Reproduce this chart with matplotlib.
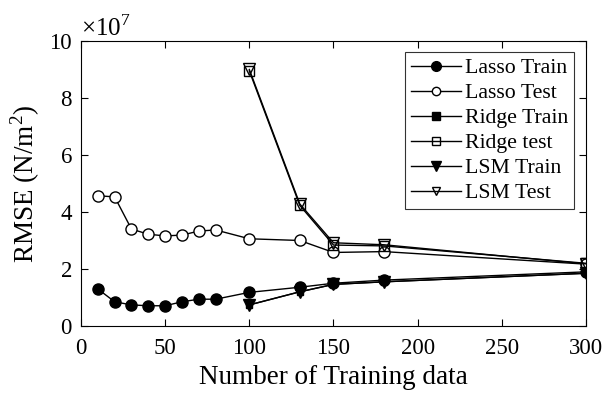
import matplotlib
matplotlib.use('Agg')
import matplotlib.pyplot as plt
from matplotlib.ticker import FuncFormatter

plt.rcParams['font.family'] = ['Liberation Serif', 'DejaVu Serif']
plt.rcParams['mathtext.fontset'] = 'custom'
plt.rcParams['mathtext.rm'] = 'Liberation Serif'

# RMSE values in units of 1e7 N/m^2
n_lasso = [10, 20, 30, 40, 50, 60, 70, 80, 100, 130, 150, 180, 300]
lasso_train = [1.30, 0.85, 0.74, 0.71, 0.71, 0.85, 0.94, 0.94, 1.18, 1.36, 1.50, 1.61, 1.90]
lasso_test = [4.57, 4.53, 3.40, 3.22, 3.16, 3.19, 3.33, 3.37, 3.06, 3.00, 2.58, 2.61, 2.17]

n_ridge = [100, 130, 150, 180, 300]
ridge_train = [0.74, 1.20, 1.46, 1.55, 1.85]
ridge_test = [8.95, 4.23, 2.84, 2.81, 2.20]
lsm_train = [0.74, 1.20, 1.46, 1.55, 1.85]
lsm_test = [9.00, 4.28, 2.92, 2.85, 2.18]

fig = plt.figure(figsize=(6.07, 3.94), dpi=100)
ax = fig.add_axes([0.1334, 0.1726, 0.832, 0.7234])

kw = dict(color='black', lw=1.0, mec='black')
ax.plot(n_lasso, lasso_train, marker='o', ms=8, mfc='black', label='Lasso Train', **kw)
ax.plot(n_lasso, lasso_test, marker='o', ms=8, mfc='white', label='Lasso Test', **kw)
ax.plot(n_ridge, ridge_train, marker='s', ms=4, mfc='black', label='Ridge Train', **kw)
ax.plot(n_ridge, ridge_test, marker='s', ms=7, mfc='none', label='Ridge test', **kw)
ax.plot(n_ridge, lsm_train, marker='v', ms=9, mfc='black', label='LSM Train', **kw)
ax.plot(n_ridge, lsm_test, marker='v', ms=8.5, mfc='none', label='LSM Test', **kw)

ax.set_xlim(0, 300)
ax.set_ylim(0, 10)
ax.set_xticks(range(0, 301, 50))
ax.set_yticks(range(0, 11, 2))
ax.yaxis.set_major_formatter(FuncFormatter(lambda v, p: '%d' % v))
ax.tick_params(direction='in', top=True, right=True, labelsize=16.5, length=5, width=0.8)
ax.tick_params(axis='x', pad=9)
ax.tick_params(axis='y', pad=6.5)
for s in ax.spines.values():
    s.set_linewidth(0.8)

ax.set_xlabel('Number of Training data', fontsize=19.5, labelpad=4)
ax.set_ylabel('RMSE (N/m$^2$)', fontsize=19.5, labelpad=5)
ax.text(0.0, 1.0, r'$\times10^7$', transform=ax.transAxes, fontsize=18,
        ha='left', va='bottom')

leg = ax.legend(loc='upper right', bbox_to_anchor=(0.985, 0.975), fontsize=15.7,
                frameon=True, fancybox=False, edgecolor='black', handlelength=2.3,
                labelspacing=0.22, borderpad=0.25, handletextpad=0.2, borderaxespad=0.2)
leg.get_frame().set_linewidth(0.8)
for h, size in zip(leg.get_lines(), [7, 6, 5.5, 6, 7, 6]):
    h.set_markersize(size)

fig.savefig('out.png', dpi=100)
